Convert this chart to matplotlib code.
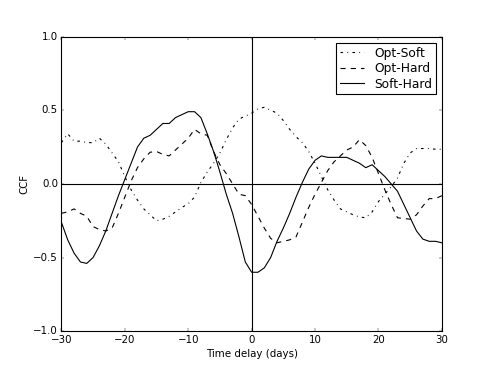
import numpy as np
import matplotlib
matplotlib.use('Agg')
import matplotlib.pyplot as plt

plt.style.use('classic')

#time delay in days, one point per day
lag = np.arange(-30, 31)

#Opt-Soft cross correlation
opt_soft = [0.28, 0.34, 0.29, 0.29, 0.28, 0.28, 0.31, 0.27, 0.21, 0.15,
            0.05, -0.04, -0.11, -0.17, -0.21, -0.25, -0.24, -0.22, -0.19, -0.16,
            -0.135, -0.09, 0.01, 0.08, 0.14, 0.21, 0.30, 0.38, 0.44, 0.46,
            0.48, 0.51, 0.52, 0.50, 0.48, 0.43, 0.37, 0.32, 0.28, 0.22,
            0.14, 0.05, -0.04, -0.11, -0.17, -0.19, -0.21, -0.225, -0.23, -0.19,
            -0.12, -0.07, -0.02, 0.04, 0.14, 0.21, 0.24, 0.24, 0.24, 0.235,
            0.235]

#Opt-Hard cross correlation
opt_hard = [-0.20, -0.19, -0.17, -0.20, -0.22, -0.29, -0.31, -0.32, -0.30, -0.20,
            -0.09, 0.02, 0.11, 0.17, 0.215, 0.22, 0.20, 0.19, 0.23, 0.27,
            0.31, 0.37, 0.34, 0.33, 0.22, 0.13, 0.07, 0.00, -0.07, -0.08,
            -0.14, -0.22, -0.30, -0.37, -0.40, -0.39, -0.38, -0.36, -0.26, -0.16,
            -0.07, 0.01, 0.09, 0.15, 0.19, 0.23, 0.25, 0.30, 0.26, 0.18,
            0.07, -0.04, -0.14, -0.23, -0.235, -0.24, -0.21, -0.15, -0.10, -0.10,
            -0.08]

#Soft-Hard cross correlation
soft_hard = [-0.26, -0.38, -0.47, -0.53, -0.54, -0.50, -0.42, -0.32, -0.20, -0.08,
             0.03, 0.14, 0.25, 0.31, 0.33, 0.37, 0.41, 0.41, 0.45, 0.47,
             0.49, 0.49, 0.45, 0.34, 0.22, 0.08, -0.07, -0.20, -0.36, -0.53,
             -0.60, -0.60, -0.57, -0.50, -0.39, -0.30, -0.20, -0.09, 0.01, 0.10,
             0.16, 0.19, 0.18, 0.18, 0.18, 0.18, 0.16, 0.14, 0.11, 0.13,
             0.09, 0.05, 0.00, -0.05, -0.14, -0.23, -0.32, -0.375, -0.39, -0.39,
             -0.40]

fig = plt.figure(figsize=(8, 6), dpi=491 / 8.0, facecolor='white')
ax = fig.add_axes([0.125, 0.1, 0.775, 0.8])

lw = 1.3
ax.plot(lag, opt_soft, 'k-.', lw=lw, label='Opt-Soft')
ax.plot(lag, opt_hard, 'k--', lw=lw, label='Opt-Hard')
ax.plot(lag, soft_hard, 'k-', lw=lw, label='Soft-Hard')
ax.axhline(0, color='k', lw=lw)
ax.axvline(0, color='k', lw=lw)
for s in ax.spines.values():
    s.set_linewidth(lw)

ax.set_xlim(-30, 30)
ax.set_ylim(-1, 1)
ax.set_xticks([-30, -20, -10, 0, 10, 20, 30])
ax.set_yticks([-1.0, -0.5, 0.0, 0.5, 1.0])
ax.tick_params(labelsize=12)
ax.set_xlabel('Time delay (days)', fontsize=12)
ax.set_ylabel('CCF', fontsize=12)
leg = ax.legend(loc='upper right', fontsize=14.4, numpoints=1,
                labelspacing=0.2, borderpad=0.3)
leg.get_frame().set_linewidth(lw)

fig.savefig('out.png', dpi=491 / 8.0, facecolor='white')
